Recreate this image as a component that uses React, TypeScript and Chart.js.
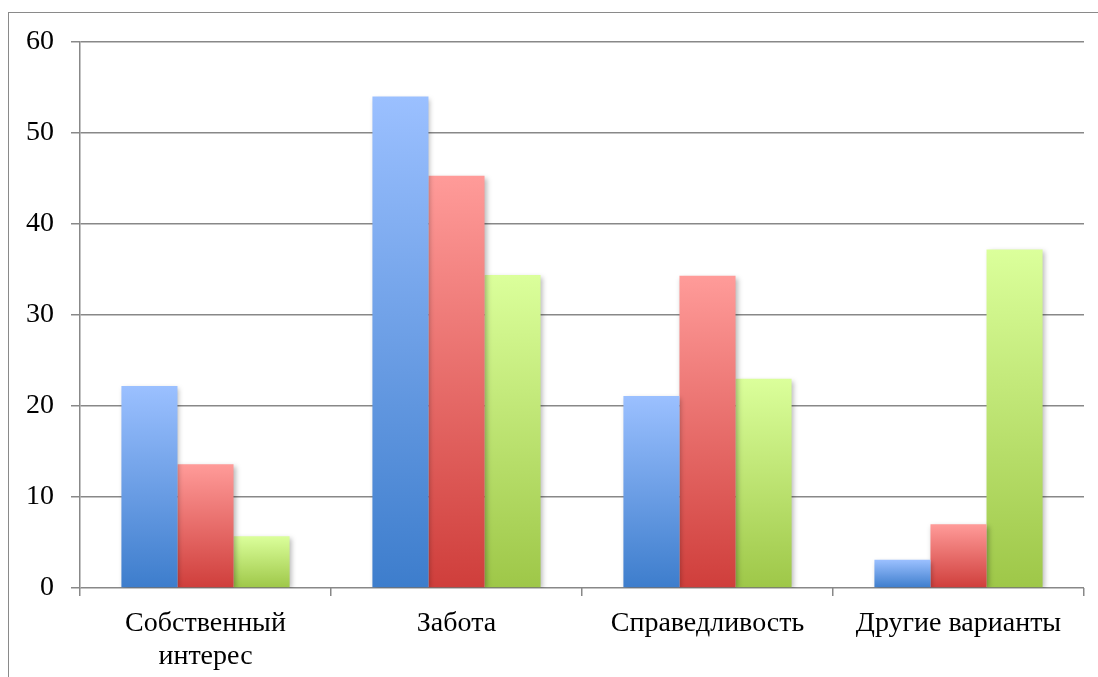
import React, { useEffect, useRef } from "react";
import { Chart, registerables } from "chart.js";

Chart.register(...registerables);

const categories: (string | string[])[] = [
  ["Собственный", "интерес"],
  "Забота",
  "Справедливость",
  "Другие варианты",
];
const seriesBlue = [22.2, 54.0, 21.1, 3.1];
const seriesRed = [13.6, 45.3, 34.3, 7.0];
const seriesGreen = [5.7, 34.4, 23.0, 37.2];
const yTicks = [0, 10, 20, 30, 40, 50, 60];

const FONT = "'Liberation Serif', 'Times New Roman', serif";

const CANVAS_W = 1089;
const CANVAS_H = 664;

function gradientFill(top: string, bottom: string) {
  return (c: any) => {
    const chart = c.chart;
    const { ctx, chartArea, scales } = chart;
    if (!chartArea || c.type !== "data" || !scales.y) return bottom;
    const yTop = scales.y.getPixelForValue(c.raw);
    const yBot = scales.y.getPixelForValue(0);
    if (!isFinite(yTop) || !isFinite(yBot) || yTop === yBot) return bottom;
    const g = ctx.createLinearGradient(0, yTop, 0, yBot);
    g.addColorStop(0, top);
    g.addColorStop(1, bottom);
    return g;
  };
}

const shadowPlugin = {
  id: "barShadow",
  beforeDatasetsDraw(chart: any) {
    const ctx = chart.ctx;
    ctx.save();
    ctx.shadowColor = "rgba(0,0,0,0.28)";
    ctx.shadowBlur = 5;
    ctx.shadowOffsetX = 2;
    ctx.shadowOffsetY = 2;
  },
  afterDatasetsDraw(chart: any) {
    chart.ctx.restore();
  },
};

export default function App() {
  const ref = useRef<HTMLCanvasElement | null>(null);

  useEffect(() => {
    const canvas = ref.current;
    if (!canvas) return;
    const chart = new Chart(canvas, {
      type: "bar",
      data: {
        labels: categories as any,
        datasets: [
          {
            label: "1",
            data: seriesBlue,
            backgroundColor: gradientFill("rgb(155,192,255)", "rgb(61,125,204)"),
            borderWidth: 0,
          },
          {
            label: "2",
            data: seriesRed,
            backgroundColor: gradientFill("rgb(255,155,153)", "rgb(207,62,59)"),
            borderWidth: 0,
          },
          {
            label: "3",
            data: seriesGreen,
            backgroundColor: gradientFill("rgb(219,255,155)", "rgb(158,199,72)"),
            borderWidth: 0,
          },
        ],
      },
      plugins: [shadowPlugin],
      options: {
        animation: false,
        responsive: false,
        maintainAspectRatio: false,
        devicePixelRatio: 1,
        layout: { padding: { top: 29, right: 14, bottom: 0, left: 0 } },
        plugins: {
          legend: { display: false },
          tooltip: { enabled: false },
        },
        datasets: {
          bar: { categoryPercentage: 0.67, barPercentage: 1.0 },
        },
        scales: {
          x: {
            grid: {
              offset: true,
              drawOnChartArea: false,
              drawTicks: true,
              tickLength: 8,
              color: "#888888",
              lineWidth: 1.5,
            },
            border: { display: false },
            ticks: {
              color: "#000000",
              font: { family: FONT, size: 28, lineHeight: 1.18 },
              padding: 11,
              maxRotation: 0,
              autoSkip: false,
            },
            afterFit(scale: any) {
              scale.height = 89;
              scale.paddingLeft = 0;
              scale.paddingRight = 0;
            },
          },
          y: {
            min: 0,
            max: 60,
            afterBuildTicks(scale: any) {
              scale.ticks = yTicks.map((v) => ({ value: v }));
            },
            grid: {
              color: "#888888",
              lineWidth: 1.5,
              drawTicks: true,
              tickLength: 9,
            },
            border: { display: true, color: "#888888", width: 1.5 },
            ticks: {
              color: "#000000",
              font: { family: FONT, size: 28 },
              padding: 17,
            },
            afterFit(scale: any) {
              scale.width = 71;
              scale.paddingTop = 0;
              scale.paddingBottom = 0;
            },
          },
        },
      },
    });
    return () => chart.destroy();
  }, []);

  return (
    <div
      style={{
        position: "fixed",
        left: 8,
        top: 12,
        width: CANVAS_W + 20,
        height: CANVAS_H + 20,
        borderLeft: "1px solid #8a8a8a",
        borderTop: "1px solid #8a8a8a",
        overflow: "hidden",
      }}
    >
      <canvas
        ref={ref}
        width={CANVAS_W}
        height={CANVAS_H}
        style={{ display: "block", width: CANVAS_W, height: CANVAS_H }}
      />
    </div>
  );
}
